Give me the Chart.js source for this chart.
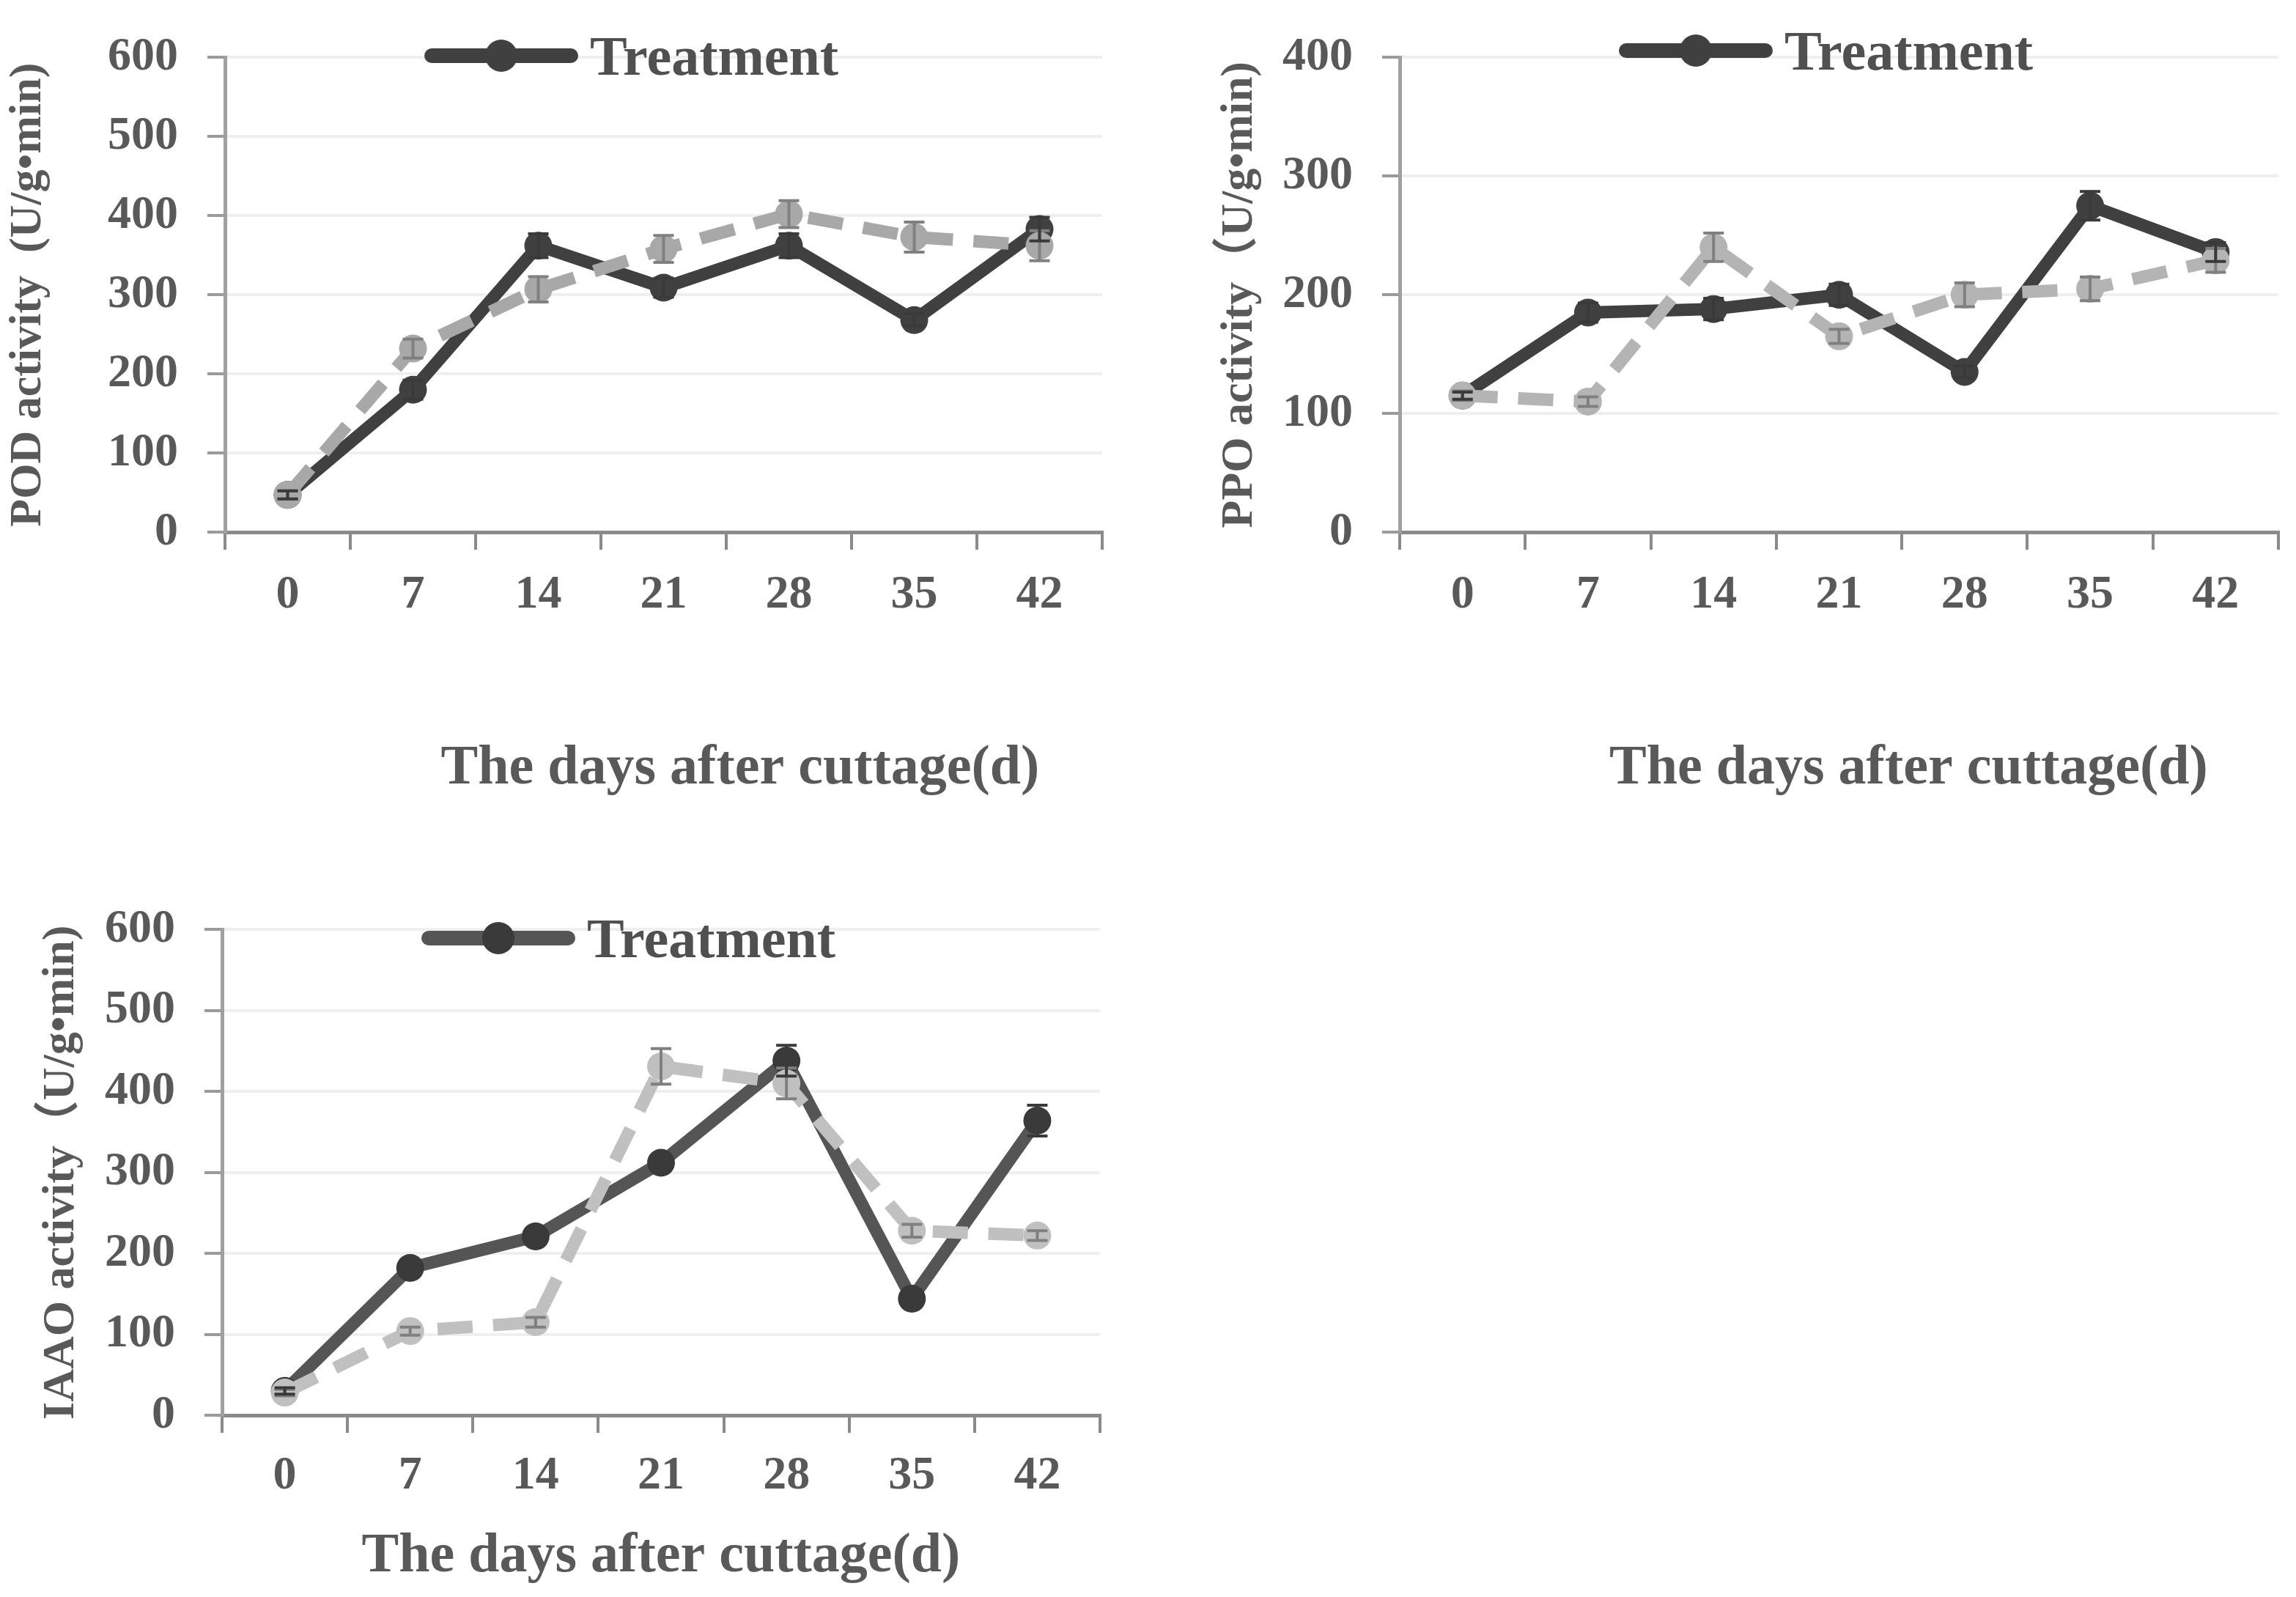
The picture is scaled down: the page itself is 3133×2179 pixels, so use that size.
<!DOCTYPE html>
<html>
<head>
<meta charset="utf-8">
<script src="https://cdn.jsdelivr.net/npm/chart.js@4.4.1/dist/chart.umd.min.js"></script>
<style>
  html, body { margin: 0; padding: 0; background: #ffffff; }
  body { width: 3133px; height: 2179px; position: relative; overflow: hidden; }
  canvas { position: absolute; }
  .legend {
    position: absolute;
    display: flex;
    align-items: center;
    height: 76px;
    font: bold 76px/76px 'Liberation Serif', serif;
    color: #505050;
    white-space: nowrap;
  }
  .legend .swatch {
    position: relative;
    width: 210px;
    height: 20px;
    border-radius: 10px;
    margin-right: 16px;
  }
  .legend .dot {
    position: absolute;
    left: 83px;
    top: -12px;
    width: 44px;
    height: 44px;
    border-radius: 50%;
  }
</style>
</head>
<body>
<canvas id="pod" width="1560" height="1100" style="left:0;top:0"></canvas>
<canvas id="ppo" width="1560" height="1100" style="left:1573px;top:0"></canvas>
<canvas id="iaao" width="1560" height="989" style="left:0;top:1190px"></canvas>
<script>
const days = ["0", "7", "14", "21", "28", "35", "42"];

const podTreatment = [47, 180, 362, 309, 362, 268, 383];
const podTreatmentErr = [5, 12, 15, 12, 15, 8, 15];
const podControl = [47, 232, 307, 358, 402, 373, 362];
const podControlErr = [5, 12, 16, 17, 17, 19, 19];

const ppoTreatment = [115, 185, 188, 200, 135, 275, 236];
const ppoTreatmentErr = [3, 8, 9, 9, 5, 12, 8];
const ppoControl = [115, 110, 240, 165, 200, 205, 229];
const ppoControlErr = [4, 4, 12, 6, 10, 10, 10];

const iaaoTreatment = [30, 182, 221, 312, 438, 144, 364];
const iaaoTreatmentErr = [4, 8, 8, 10, 19, 6, 19];
const iaaoControl = [28, 104, 115, 431, 410, 228, 222];
const iaaoControlErr = [4, 5, 6, 22, 19, 8, 6];

const serif = "'Liberation Serif', 'Noto Sans CJK SC', serif";
const textGrey = "#595959";

/* vertical error bars with caps, placed through the y scale */
const errorBars = {
    id: "errorBars",
    afterDatasetsDraw(chart) {
        const ctx = chart.ctx;
        const y = chart.scales.y;
        chart.data.datasets.forEach((ds, i) => {
            const meta = chart.getDatasetMeta(i);
            if (!ds.errors || meta.hidden) return;
            ctx.save();
            ctx.strokeStyle = ds.errorColor;
            ctx.lineWidth = 4;
            meta.data.forEach((pt, j) => {
                const v = ds.data[j];
                const e = ds.errors[j];
                const top = y.getPixelForValue(v + e);
                const bot = y.getPixelForValue(v - e);
                ctx.beginPath();
                ctx.moveTo(pt.x, top);
                ctx.lineTo(pt.x, bot);
                ctx.moveTo(pt.x - 14, top);
                ctx.lineTo(pt.x + 14, top);
                ctx.moveTo(pt.x - 14, bot);
                ctx.lineTo(pt.x + 14, bot);
                ctx.stroke();
            });
            ctx.restore();
        });
    }
};

/* legend with a line + dot symbol, only the treatment series is listed */
function addLegend(chart, left, top) {
    const ds = chart.data.datasets.find(d => d.label === "Treatment");
    const box = document.createElement("div");
    box.className = "legend";
    box.style.left = left + "px";
    box.style.top = top + "px";

    const swatch = document.createElement("span");
    swatch.className = "swatch";
    swatch.style.background = ds.borderColor;
    const dot = document.createElement("span");
    dot.className = "dot";
    dot.style.background = ds.pointBackgroundColor;
    swatch.appendChild(dot);

    const text = document.createElement("span");
    text.textContent = ds.label;

    box.appendChild(swatch);
    box.appendChild(text);
    document.body.appendChild(box);
}

function makeChart(id, s) {
    return new Chart(document.getElementById(id), {
        type: "line",
        data: {
            labels: days,
            datasets: [{
                label: "Control",
                data: s.control,
                errors: s.controlErr,
                errorColor: "#808080",
                borderColor: s.controlColor,
                backgroundColor: s.controlColor,
                borderWidth: 17,
                borderDash: [48, 28],
                pointRadius: 19,
                pointBorderWidth: 0,
                pointBackgroundColor: s.controlColor,
                tension: 0,
                fill: false
            }, {
                label: "Treatment",
                data: s.treatment,
                errors: s.treatmentErr,
                errorColor: "#3a3a3a",
                borderColor: s.lineColor,
                backgroundColor: s.dotColor,
                borderWidth: 17,
                pointRadius: 19,
                pointBorderWidth: 0,
                pointBackgroundColor: s.dotColor,
                tension: 0,
                fill: false
            }]
        },
        options: {
            responsive: false,
            animation: false,
            devicePixelRatio: 1,
            layout: {
                padding: { top: s.padTop, right: s.padRight, left: 0, bottom: 0 }
            },
            plugins: {
                tooltip: { enabled: false },
                legend: { display: false }
            },
            scales: {
                x: {
                    offset: true,
                    afterFit: (scale) => { scale.height = s.xHeight; },
                    grid: {
                        offset: true,
                        drawOnChartArea: false,
                        drawTicks: true,
                        tickLength: 24,
                        color: "#8a8a8a",
                        lineWidth: 4
                    },
                    border: { color: "#8a8a8a", width: 5 },
                    ticks: {
                        padding: s.xTickPad,
                        maxRotation: 0,
                        color: textGrey,
                        font: { family: serif, size: 64, weight: "bold" }
                    },
                    title: {
                        display: true,
                        text: s.xTitle,
                        color: textGrey,
                        padding: { top: 0, bottom: s.xTitlePad },
                        font: { family: serif, size: 76, weight: "bold" }
                    }
                },
                y: {
                    min: 0,
                    max: s.yMax,
                    afterFit: (scale) => { scale.width = s.yWidth; },
                    grid: {
                        color: "#efefef",
                        lineWidth: 4,
                        tickLength: 24,
                        tickColor: "#9a9a9a",
                        tickWidth: 4
                    },
                    border: { color: "#a0a0a0", width: 5 },
                    ticks: {
                        stepSize: 100,
                        padding: 40,
                        color: textGrey,
                        font: { family: serif, size: 64, weight: "bold" }
                    },
                    title: {
                        display: true,
                        text: s.yTitle,
                        color: textGrey,
                        padding: { top: s.yTitlePad, bottom: 0 },
                        font: { family: serif, size: 62, weight: "bold" }
                    }
                }
            }
        },
        plugins: [errorBars]
    });
}

const podChart = makeChart("pod", {
    treatment: podTreatment, treatmentErr: podTreatmentErr,
    control: podControl, controlErr: podControlErr,
    lineColor: "#404040", dotColor: "#404040", controlColor: "#a8a8a8",
    yMax: 600, yTitle: "POD activity  (U/g\u2022min)", yTitlePad: 2,
    xTitle: "           The days after cuttage(d)", xTitlePad: 5,
    yWidth: 307, xHeight: 374, padTop: 37, padRight: 56, xTickPad: 24
});

const ppoChart = makeChart("ppo", {
    treatment: ppoTreatment, treatmentErr: ppoTreatmentErr,
    control: ppoControl, controlErr: ppoControlErr,
    lineColor: "#404040", dotColor: "#404040", controlColor: "#b4b4b4",
    yMax: 400, yTitle: "PPO activity\uFF08U/g\u2022min)", yTitlePad: 82,
    xTitle: "          The days after cuttage(d)", xTitlePad: 5,
    yWidth: 337, xHeight: 374, padTop: 37, padRight: 24, xTickPad: 24
});

const iaaoChart = makeChart("iaao", {
    treatment: iaaoTreatment, treatmentErr: iaaoTreatmentErr,
    control: iaaoControl, controlErr: iaaoControlErr,
    lineColor: "#555555", dotColor: "#3a3a3a", controlColor: "#c0c0c0",
    yMax: 600, yTitle: "IAAO activity\uFF08U/g\u2022min)", yTitlePad: 47,
    xTitle: "The days after cuttage(d)", xTitlePad: 9,
    yWidth: 303, xHeight: 248, padTop: 62, padRight: 59, xTickPad: 21
});

addLegend(podChart, 579, 38);
addLegend(ppoChart, 2209, 31);
addLegend(iaaoChart, 575, 1242);
</script>
</body>
</html>
